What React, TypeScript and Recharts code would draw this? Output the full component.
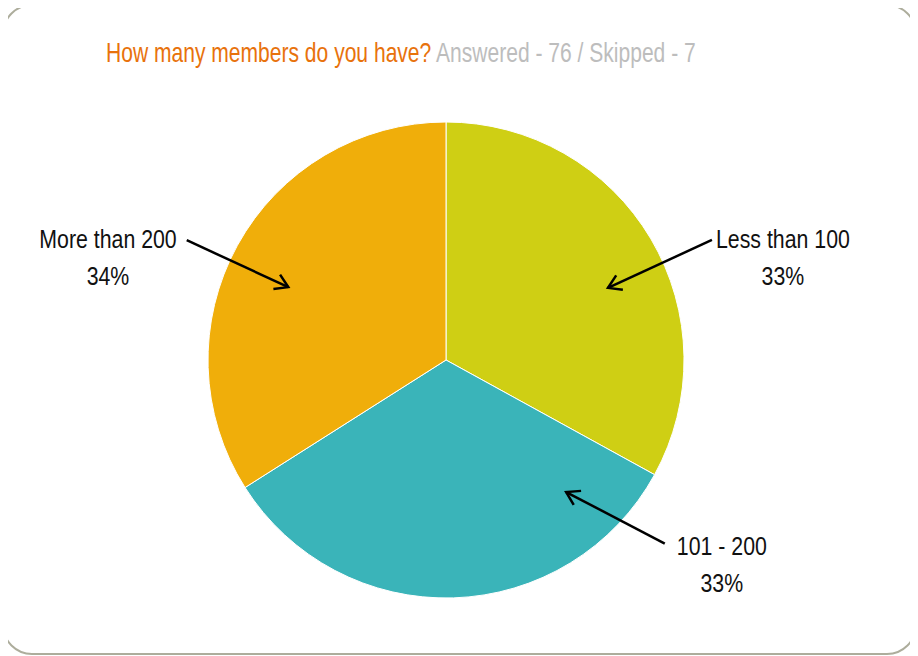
import { PieChart, Pie, Cell } from "recharts";

const categories = ["Less than 100", "101 - 200", "More than 200"];
const percents = [33, 33, 34];
const colors = ["#CFCF14", "#3AB4B9", "#F0AE0A"];

const titleMain = "How many members do you have?";
const titleSub = "Answered - 76 / Skipped - 7";

const data = categories.map((name, i) => ({ name, value: percents[i] }));

// no condensed font installed, so a regular sans is squeezed horizontally
const FONT = "'Liberation Sans', Arial, sans-serif";
const LABEL_SIZE = 26;
const LABEL_SQUEEZE = 0.82;
const TITLE_SIZE = 27;
const TITLE_SQUEEZE = 0.78;

// arrow placement per slice: angles in degrees from 3 o'clock, radii as a share of the outer radius
const arrowLayout: Record<string, any> = {
  "Less than 100": { headA: 24, headR: 0.745, tailA: 24.3, tailR: 1.226, side: 1, gap: 4, dy: 8 },
  "101 - 200": { headA: -47.7, headR: 0.75, tailA: -40, tailR: 1.2, side: 1, gap: 12, dy: 11 },
  "More than 200": { headA: 155.2, headR: 0.73, tailA: 155.2, tailR: 1.2, side: -1, gap: 10, dy: 8 },
};

let ctx: CanvasRenderingContext2D | null = null;
function textWidth(s: string) {
  if (!ctx) ctx = document.createElement("canvas").getContext("2d");
  if (!ctx) return s.length * 13;
  ctx.font = `${LABEL_SIZE}px ${FONT}`;
  return ctx.measureText(s).width;
}

const RAD = Math.PI / 180;

function ArrowLabel(props: any) {
  const { cx, cy, outerRadius, name, value } = props;
  const l = arrowLayout[name];
  if (!l) return null;
  const hx = cx + outerRadius * l.headR * Math.cos(l.headA * RAD);
  const hy = cy - outerRadius * l.headR * Math.sin(l.headA * RAD);
  const tx = cx + outerRadius * l.tailR * Math.cos(l.tailA * RAD);
  const ty = cy - outerRadius * l.tailR * Math.sin(l.tailA * RAD);
  // arrow head arms
  const dir = Math.atan2(ty - hy, tx - hx);
  const arm = 15;
  const spread = 32 * RAD;
  const a1x = hx + arm * Math.cos(dir + spread);
  const a1y = hy + arm * Math.sin(dir + spread);
  const a2x = hx + arm * Math.cos(dir - spread);
  const a2y = hy + arm * Math.sin(dir - spread);
  const w = textWidth(name) * LABEL_SQUEEZE;
  const center = l.side > 0 ? tx + l.gap + w / 2 : tx - l.gap - w / 2;
  const base = ty + l.dy;
  return (
    <g>
      <line x1={tx} y1={ty} x2={hx} y2={hy} stroke="#000" strokeWidth={2.5} />
      <polyline
        points={`${a1x},${a1y} ${hx},${hy} ${a2x},${a2y}`}
        fill="none"
        stroke="#000"
        strokeWidth={2.5}
      />
      <g transform={`translate(${center},${base}) scale(${LABEL_SQUEEZE},1)`}>
        <text x={0} y={0} textAnchor="middle" fontFamily={FONT} fontSize={LABEL_SIZE} fill="#111">
          {name}
        </text>
        <text x={0} y={37} textAnchor="middle" fontFamily={FONT} fontSize={LABEL_SIZE} fill="#111">
          {`${value}%`}
        </text>
      </g>
    </g>
  );
}

export default function App() {
  return (
    <div style={{ position: "relative", width: 918, height: 656, marginLeft: -8, marginTop: -8, overflow: "hidden", background: "#fff" }}>
      <div
        style={{
          position: "absolute",
          left: 2,
          top: 4,
          width: 915,
          height: 651,
          boxSizing: "border-box",
          border: "2px solid #ADAD9C",
          borderRadius: 30,
        }}
      />
      <div style={{ position: "absolute", left: 0, top: 0 }}>
        <PieChart width={918} height={656} margin={{ top: 0, right: 0, bottom: 0, left: 0 }}>
          <Pie
            data={data}
            dataKey="value"
            nameKey="name"
            cx={446}
            cy={360}
            outerRadius={238}
            startAngle={90}
            endAngle={-270}
            stroke="#ffffff"
            strokeWidth={1}
            label={ArrowLabel}
            labelLine={false}
            isAnimationActive={false}
          >
            {data.map((entry, i) => (
              <Cell key={entry.name} fill={colors[i]} />
            ))}
          </Pie>
        </PieChart>
      </div>
      <svg width={918} height={80} style={{ position: "absolute", left: 0, top: 0, pointerEvents: "none" }}>
        <text
          transform={`translate(106,62) scale(${TITLE_SQUEEZE},1)`}
          fontFamily={FONT}
          fontSize={TITLE_SIZE}
          xmlSpace="preserve"
        >
          <tspan fill="#E8720C">{titleMain}</tspan>
          <tspan fill="#BDBDBD">{" " + titleSub}</tspan>
        </text>
      </svg>
    </div>
  );
}
